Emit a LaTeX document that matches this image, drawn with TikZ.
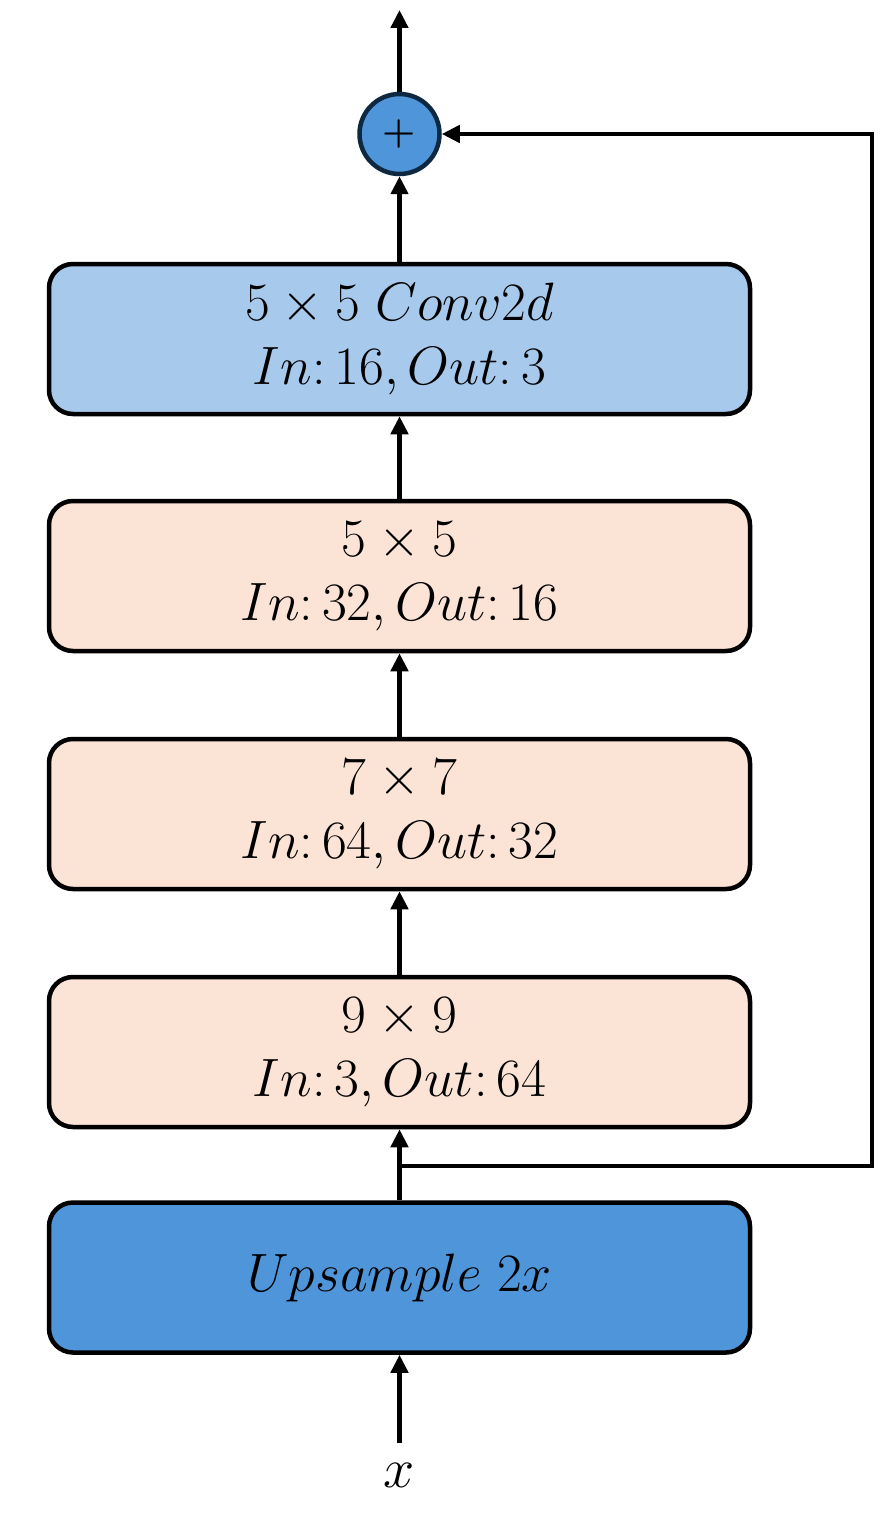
\RequirePackage{fix-cm}
\documentclass[tikz,border=0pt]{standalone}
\usetikzlibrary{arrows.meta}
\definecolor{convblue}{HTML}{A6C9EC}
\definecolor{peach}{HTML}{FBE3D6}
\definecolor{upblue}{HTML}{4F95D9}
\definecolor{navy}{HTML}{0E2841}
\begin{document}
\begin{tikzpicture}[x=1pt,y=-1pt,
  layerbox/.style={draw=black,line width=4.5pt,rounded corners=24pt,minimum width=701pt,minimum height=150pt,align=center,inner sep=0pt,font=\fontsize{54}{64}\selectfont},
  conn/.style={line width=4.5pt,-{Triangle[length=18pt,width=17pt]}}]
\useasboundingbox (0,0) rectangle (892,1525);
\node[layerbox,fill=convblue] (conv) at (399.5,339) {$5\times5\;Conv2d$\\$In\colon 16, Out\colon 3$};
\node[layerbox,fill=peach] (b55) at (399.5,576) {$5\times5$\\$In\colon 32, Out\colon 16$};
\node[layerbox,fill=peach] (b77) at (399.5,814) {$7\times7$\\$In\colon 64, Out\colon 32$};
\node[layerbox,fill=peach] (b99) at (399.5,1052) {$9\times9$\\$In\colon 3, Out\colon 64$};
\node[layerbox,fill=upblue] (up) at (399.5,1277.5) {$Upsample\;2x$};
\node[circle,draw=navy,fill=upblue,line width=4.5pt,minimum size=80pt,inner sep=0pt,font=\fontsize{38}{38}\selectfont\bfseries] (plus) at (399.5,134) {+};
\node[font=\fontsize{56}{56}\selectfont] (xin) at (399.5,1475) {$x$};
\coordinate (xstart) at (399.5,1443);
\coordinate (outtop) at (399.5,10);
\coordinate (split) at (399.5,1166);
\coordinate (rb) at (872,1166);
\coordinate (rt) at (872,134);
\draw[conn] (xstart) -- (up.south);
\draw[conn] (up.north) -- (b99.south);
\draw[conn] (b99.north) -- (b77.south);
\draw[conn] (b77.north) -- (b55.south);
\draw[conn] (b55.north) -- (conv.south);
\draw[conn] (conv.north) -- (plus.south);
\draw[conn] (plus.north) -- (outtop);
\draw[conn] (split) -- (rb) -- (rt) -- (plus.east);
\end{tikzpicture}
\end{document}
